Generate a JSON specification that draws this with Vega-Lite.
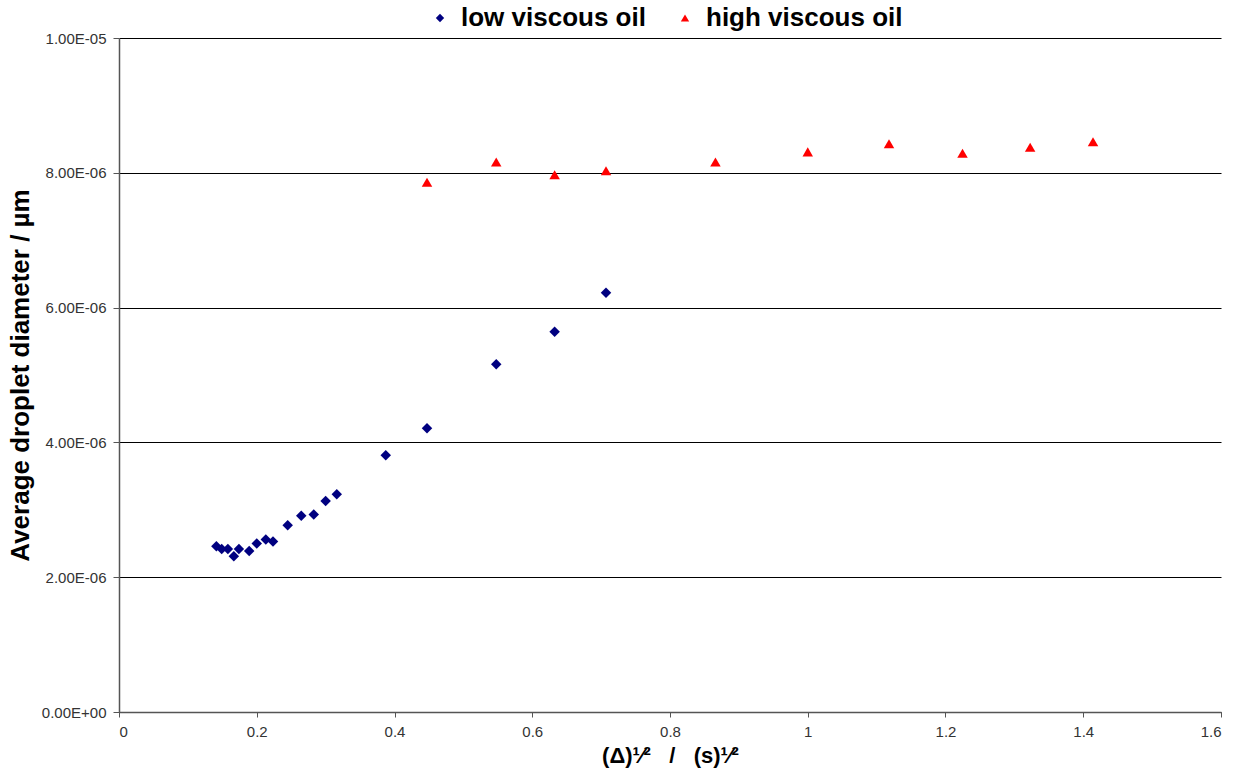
{
  "$schema": "https://vega.github.io/schema/vega-lite/v6.json",
  "autosize": {"type": "none"},
  "width": 1102,
  "height": 674,
  "padding": {"left": 119, "top": 38, "right": 16, "bottom": 62},
  "background": "white",
  "config": {
    "font": "Liberation Sans",
    "view": {"stroke": null},
    "axis": {"labelFont": "Liberation Sans", "titleFont": "Liberation Sans"}
  },
  "data": {
    "values": [
      {"x": 0.1414, "y": 2.46e-6, "series": "low viscous oil"},
      {"x": 0.1491, "y": 2.42e-6, "series": "low viscous oil"},
      {"x": 0.1581, "y": 2.42e-6, "series": "low viscous oil"},
      {"x": 0.1667, "y": 2.31e-6, "series": "low viscous oil"},
      {"x": 0.1741, "y": 2.42e-6, "series": "low viscous oil"},
      {"x": 0.189, "y": 2.39e-6, "series": "low viscous oil"},
      {"x": 0.2, "y": 2.5e-6, "series": "low viscous oil"},
      {"x": 0.2132, "y": 2.56e-6, "series": "low viscous oil"},
      {"x": 0.2236, "y": 2.53e-6, "series": "low viscous oil"},
      {"x": 0.2449, "y": 2.77e-6, "series": "low viscous oil"},
      {"x": 0.2646, "y": 2.91e-6, "series": "low viscous oil"},
      {"x": 0.2828, "y": 2.93e-6, "series": "low viscous oil"},
      {"x": 0.3, "y": 3.13e-6, "series": "low viscous oil"},
      {"x": 0.3162, "y": 3.23e-6, "series": "low viscous oil"},
      {"x": 0.3873, "y": 3.81e-6, "series": "low viscous oil"},
      {"x": 0.4472, "y": 4.21e-6, "series": "low viscous oil"},
      {"x": 0.5477, "y": 5.16e-6, "series": "low viscous oil"},
      {"x": 0.6325, "y": 5.64e-6, "series": "low viscous oil"},
      {"x": 0.7071, "y": 6.22e-6, "series": "low viscous oil"},
      {"x": 0.4472, "y": 7.86e-6, "series": "high viscous oil"},
      {"x": 0.5477, "y": 8.16e-6, "series": "high viscous oil"},
      {"x": 0.6325, "y": 7.97e-6, "series": "high viscous oil"},
      {"x": 0.7071, "y": 8.03e-6, "series": "high viscous oil"},
      {"x": 0.866, "y": 8.16e-6, "series": "high viscous oil"},
      {"x": 1.0, "y": 8.31e-6, "series": "high viscous oil"},
      {"x": 1.118, "y": 8.43e-6, "series": "high viscous oil"},
      {"x": 1.2247, "y": 8.29e-6, "series": "high viscous oil"},
      {"x": 1.3229, "y": 8.38e-6, "series": "high viscous oil"},
      {"x": 1.4142, "y": 8.46e-6, "series": "high viscous oil"}
    ]
  },
  "mark": {"type": "point", "filled": true, "opacity": 1, "size": 110},
  "encoding": {
    "x": {
      "field": "x",
      "type": "quantitative",
      "scale": {"domain": [0, 1.6], "nice": false},
      "axis": {
        "values": [0, 0.2, 0.4, 0.6, 0.8, 1, 1.2, 1.4, 1.6],
        "format": "~g",
        "grid": false,
        "domainColor": "#555555",
        "domainWidth": 1.5,
        "tickColor": "#555555",
        "tickSize": 5,
        "labelFontSize": 15,
        "labelColor": "#333333",
        "labelPadding": 7,
        "title": "(Δ)¹⁄²\u00a0\u00a0\u00a0/\u00a0\u00a0\u00a0(s)¹⁄²",
        "titleFontSize": 22,
        "titleFontWeight": "bold",
        "titleColor": "black",
        "titlePadding": 6
      }
    },
    "y": {
      "field": "y",
      "type": "quantitative",
      "scale": {"domain": [0, 1e-5], "nice": false},
      "axis": {
        "values": [0, 2e-6, 4e-6, 6e-6, 8e-6, 1e-5],
        "labelExpr": "datum.value == 0 ? '0.00E+00' : (datum.value >= 9.99e-6 ? '1.00E-05' : format(datum.value * 1e6, '.2f') + 'E-06')",
        "grid": true,
        "gridColor": "#000000",
        "gridWidth": 1,
        "domainColor": "#555555",
        "domainWidth": 1.5,
        "tickColor": "#555555",
        "tickSize": 6,
        "labelFontSize": 15,
        "labelColor": "#333333",
        "labelPadding": 7,
        "title": "Average droplet diameter / µm",
        "titleFontSize": 26,
        "titleFontWeight": "bold",
        "titleColor": "black",
        "titlePadding": 8
      }
    },
    "color": {
      "field": "series",
      "type": "nominal",
      "scale": {"domain": ["low viscous oil", "high viscous oil"], "range": ["#000080", "#FF0000"]},
      "legend": {
        "orient": "none",
        "direction": "horizontal",
        "legendX": 308,
        "legendY": -33,
        "title": null,
        "labelFontSize": 26,
        "labelFontWeight": "bold",
        "labelColor": "black",
        "labelLimit": 0,
        "labelOffset": 8,
        "columnPadding": 26,
        "symbolSize": 70,
        "symbolStrokeWidth": 0
      }
    },
    "shape": {
      "field": "series",
      "type": "nominal",
      "scale": {"domain": ["low viscous oil", "high viscous oil"], "range": ["diamond", "triangle-up"]},
      "legend": null
    }
  }
}
